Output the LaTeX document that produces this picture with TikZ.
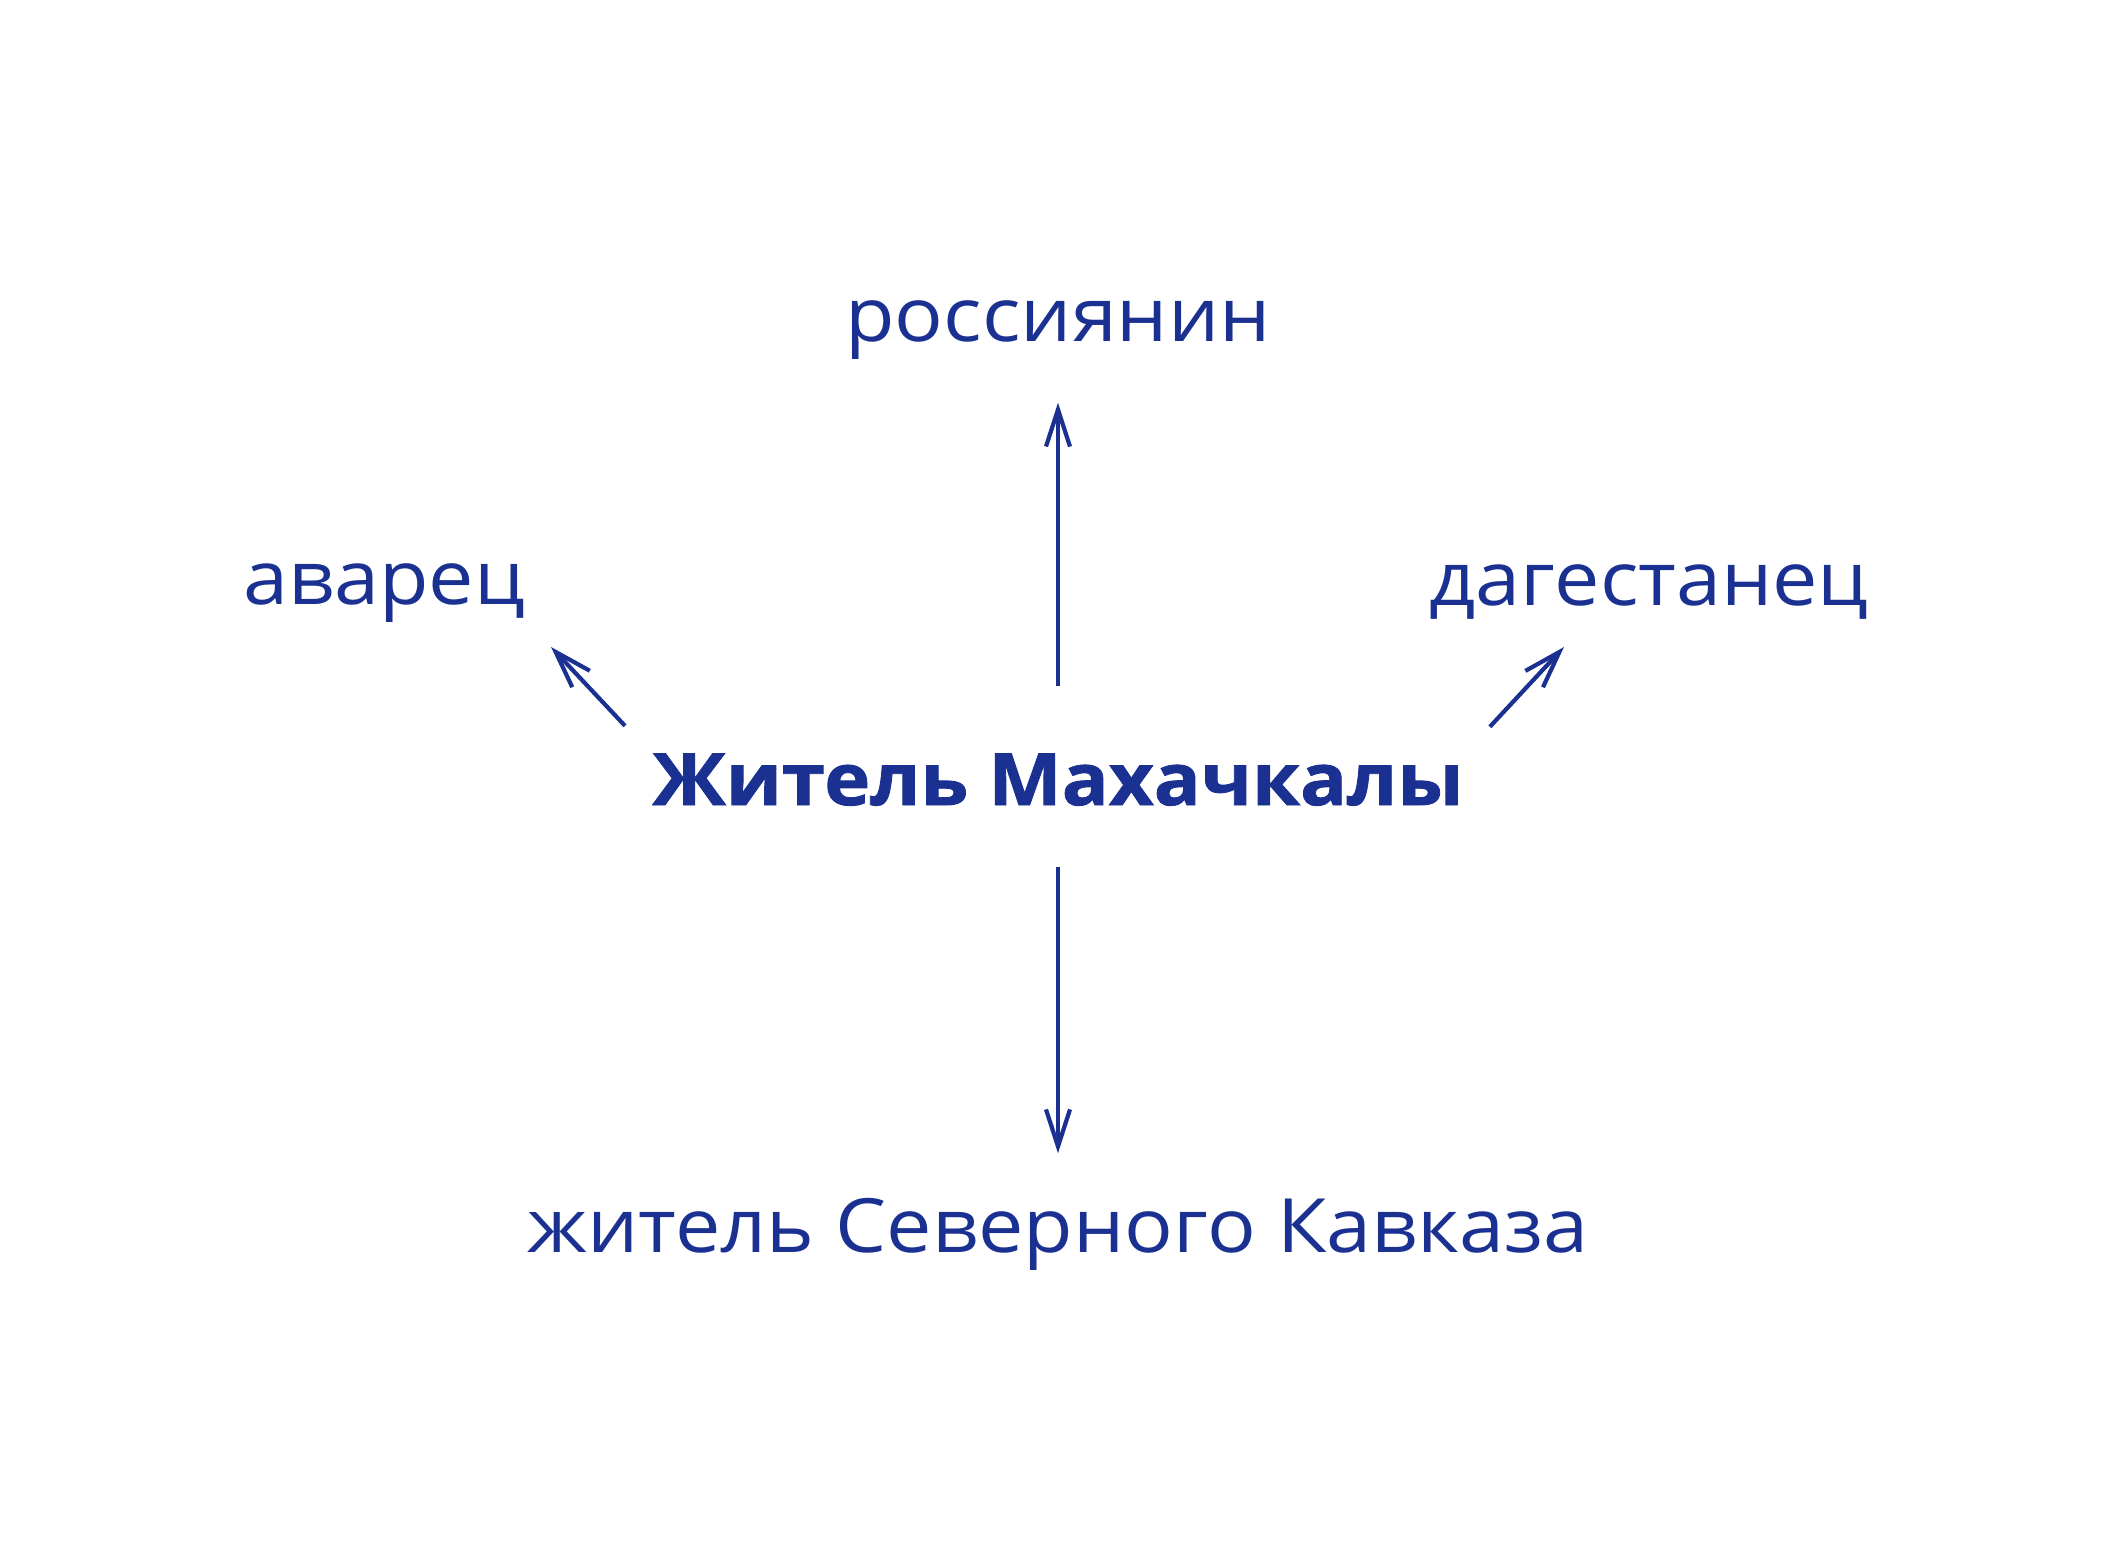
\documentclass[tikz,border=0pt]{standalone}
\usepackage{fontspec}
\setmainfont{Open Sans}[FakeStretch=1.08, BoldFeatures={FakeBold=1.2}]
\usepackage{xcolor}
\usetikzlibrary{positioning, arrows.meta}
\definecolor{navy}{RGB}{27,49,145}

\begin{document}
\begin{tikzpicture}[x=0.01cm, y=-0.01cm,
    word/.style={inner sep=0pt, anchor=base, text=navy, text height=5mm, text depth=1.5mm,
        font=\fontsize{21.3pt}{24pt}\selectfont},
    mainword/.style={word, font=\fontsize{20.5pt}{24pt}\selectfont\bfseries},
    arr/.style={draw=navy, line width=0.42mm, -{Straight Barb[length=3.7mm, width=2.4mm]}}]
    \useasboundingbox (0,0) rectangle (2115,1555);
    \node[mainword] (main) at (1058,805) {Житель Махачкалы};
    \node[word] (ros) at (1058,342) {россиянин};
    \node[word] (avar) at (384,604) {аварец};
    \node[word] (dag) at (1649,605) {дагестанец};
    \node[word] (kavkaz) at (1058,1252) {житель Северного Кавказа};
    \coordinate (avtip) at (551,647);
    \coordinate (dagtip) at (1564,647);
    \path
        (main.north) edge[arr, shorten <=6.8mm, shorten >=4.5mm] (ros.south)
        (main.south) edge[arr, shorten <=4.6mm, shorten >=4.8mm] (kavkaz.north)
        (main.north west) edge[arr, shorten <=3.9mm] (avtip)
        (main.north east) edge[arr, shorten <=3.75mm] (dagtip);
\end{tikzpicture}
\end{document}
